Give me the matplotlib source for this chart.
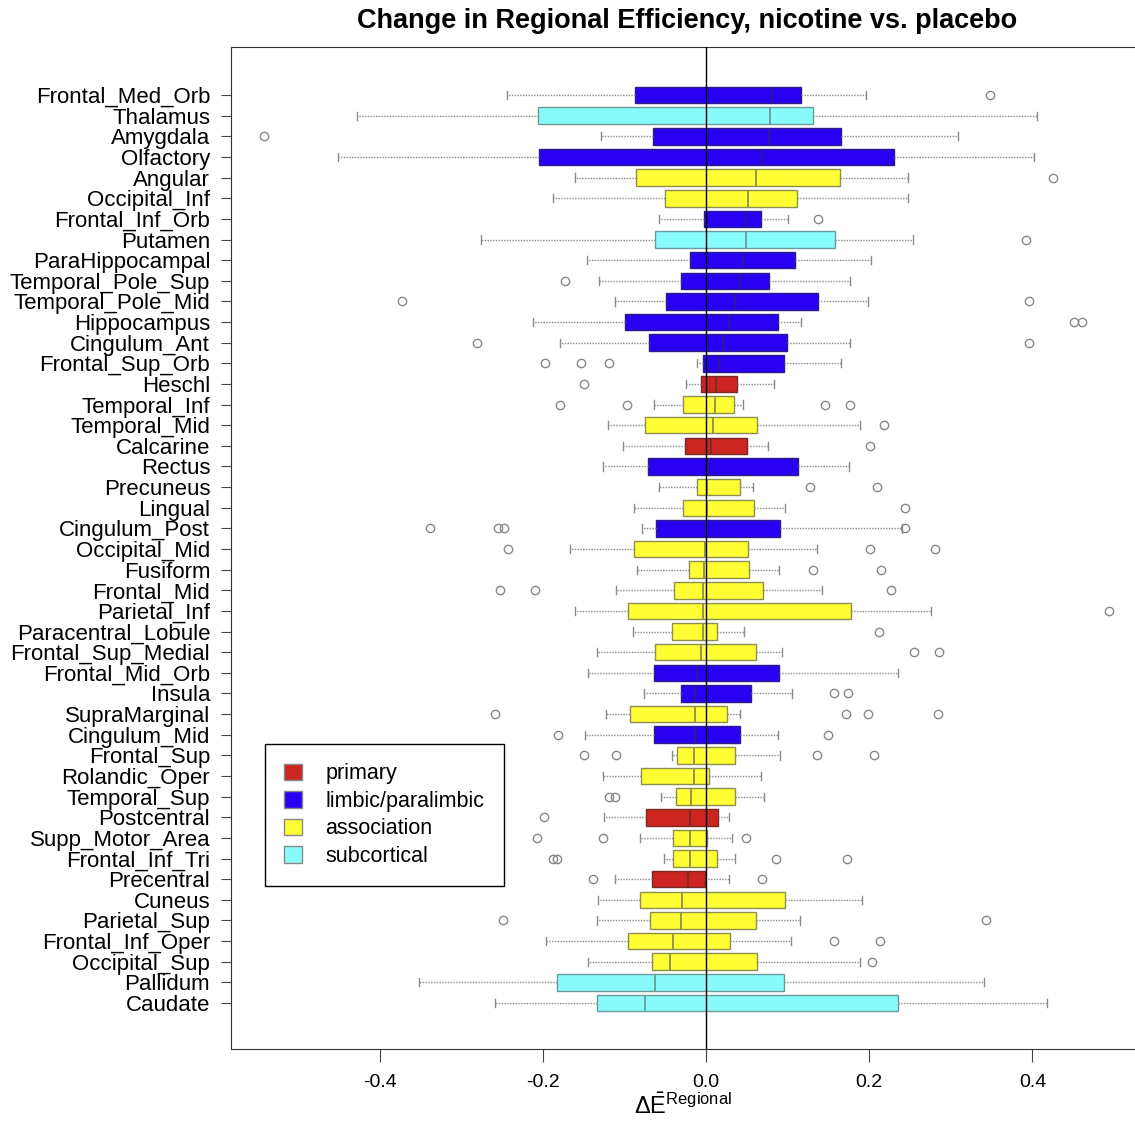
"""
Change in regional efficiency (nicotine vs. placebo) -- horizontal boxplots
per AAL region, coloured by region class.
"""

import matplotlib
matplotlib.use("Agg")
import matplotlib.pyplot as plt
from matplotlib.patches import Patch

plt.rcParams["font.family"] = ["Liberation Sans", "DejaVu Sans"]
plt.rcParams["mathtext.fontset"] = "custom"
plt.rcParams["mathtext.rm"] = "Liberation Sans"
plt.rcParams["mathtext.it"] = "Liberation Sans"

# ---- Data (top to bottom as drawn) ----
regions = [
    "Frontal_Med_Orb", "Thalamus", "Amygdala", "Olfactory", "Angular",
    "Occipital_Inf", "Frontal_Inf_Orb", "Putamen", "ParaHippocampal",
    "Temporal_Pole_Sup", "Temporal_Pole_Mid", "Hippocampus", "Cingulum_Ant",
    "Frontal_Sup_Orb", "Heschl", "Temporal_Inf", "Temporal_Mid", "Calcarine",
    "Rectus", "Precuneus", "Lingual", "Cingulum_Post", "Occipital_Mid",
    "Fusiform", "Frontal_Mid", "Parietal_Inf", "Paracentral_Lobule",
    "Frontal_Sup_Medial", "Frontal_Mid_Orb", "Insula", "SupraMarginal",
    "Cingulum_Mid", "Frontal_Sup", "Rolandic_Oper", "Temporal_Sup",
    "Postcentral", "Supp_Motor_Area", "Frontal_Inf_Tri", "Precentral",
    "Cuneus", "Parietal_Sup", "Frontal_Inf_Oper", "Occipital_Sup",
    "Pallidum", "Caudate",
]
region_class = [
    "L", "S", "L", "L", "A", "A", "L", "S", "L", "L", "L", "L", "L", "L", "P",
    "A", "A", "P", "L", "A", "A", "L", "A", "A", "A", "A", "A", "A", "L", "L",
    "A", "L", "A", "A", "A", "P", "A", "A", "P", "A", "A", "A", "A", "S", "S",
]
whislo = [
    -0.244, -0.427, -0.129, -0.451, -0.160, -0.187, -0.057, -0.276, -0.146,
    -0.131, -0.112, -0.212, -0.179, -0.011, -0.025, -0.064, -0.120, -0.102,
    -0.126, -0.058, -0.088, -0.079, -0.167, -0.084, -0.110, -0.161, -0.090,
    -0.133, -0.144, -0.076, -0.122, -0.148, -0.042, -0.126, -0.055, -0.125,
    -0.081, -0.052, -0.112, -0.132, -0.134, -0.196, -0.145, -0.352, -0.259,
]
q1 = [
    -0.087, -0.206, -0.065, -0.204, -0.086, -0.050, -0.003, -0.063, -0.020,
    -0.030, -0.049, -0.099, -0.070, -0.004, -0.006, -0.028, -0.075, -0.026,
    -0.071, -0.011, -0.028, -0.061, -0.088, -0.021, -0.039, -0.095, -0.042,
    -0.063, -0.064, -0.030, -0.093, -0.064, -0.036, -0.080, -0.037, -0.073,
    -0.040, -0.040, -0.066, -0.081, -0.069, -0.095, -0.066, -0.182, -0.134,
]
med = [
    0.081, 0.079, 0.077, 0.069, 0.061, 0.051, 0.049, 0.049, 0.045,
    0.042, 0.035, 0.028, 0.021, 0.016, 0.012, 0.011, 0.008, 0.006,
    0.002, 0.001, 0.001, 0.000, -0.001, -0.002, -0.004, -0.004, -0.004,
    -0.006, -0.011, -0.013, -0.013, -0.014, -0.015, -0.015, -0.018, -0.020,
    -0.020, -0.020, -0.022, -0.029, -0.030, -0.040, -0.044, -0.062, -0.075,
]
q3 = [
    0.117, 0.131, 0.166, 0.230, 0.164, 0.111, 0.067, 0.158, 0.109,
    0.077, 0.137, 0.088, 0.099, 0.096, 0.038, 0.034, 0.062, 0.050,
    0.113, 0.042, 0.059, 0.091, 0.051, 0.053, 0.070, 0.178, 0.013,
    0.061, 0.090, 0.055, 0.026, 0.042, 0.036, 0.004, 0.035, 0.015,
    0.001, 0.013, -0.001, 0.097, 0.061, 0.029, 0.062, 0.096, 0.235,
]
whishi = [
    0.196, 0.406, 0.309, 0.402, 0.247, 0.247, 0.100, 0.254, 0.202,
    0.176, 0.199, 0.116, 0.176, 0.166, 0.083, 0.045, 0.189, 0.076,
    0.175, 0.058, 0.097, 0.240, 0.136, 0.090, 0.142, 0.276, 0.046,
    0.093, 0.235, 0.105, 0.042, 0.088, 0.091, 0.067, 0.071, 0.028,
    0.032, 0.035, 0.028, 0.191, 0.115, 0.104, 0.189, 0.341, 0.418,
]
outliers = [
    [0.348], [], [-0.541], [], [0.425],
    [], [0.137], [0.392], [],
    [-0.173], [-0.372, 0.396], [0.451, 0.461], [-0.281, 0.396],
    [-0.197, -0.153, -0.119], [-0.150], [-0.179, -0.097, 0.146, 0.177],
    [0.218], [0.201],
    [], [0.127, 0.210], [0.244], [-0.338, -0.255, -0.248, 0.244],
    [-0.242, 0.201, 0.281],
    [0.131, 0.215], [-0.252, -0.209, 0.227], [0.494], [0.212],
    [0.255, 0.286], [], [0.157, 0.174], [-0.259, 0.171, 0.199, 0.284],
    [-0.181, 0.150], [-0.149, -0.110, 0.136, 0.206], [], [-0.119, -0.112],
    [-0.198], [-0.207, -0.126, 0.049], [-0.188, -0.182, 0.086, 0.173],
    [-0.138, 0.069],
    [], [-0.249, 0.343], [0.157, 0.213], [0.204],
    [], [],
]

class_labels = {"P": "primary", "L": "limbic/paralimbic",
                "A": "association", "S": "subcortical"}
class_face = {"P": "#CC2520", "L": "#2A00F2", "A": "#FFFF33", "S": "#88FCFC"}
class_edge = {"P": "#7A2A24", "L": "#2A1C8A", "A": "#8E8E50", "S": "#6A9A9A"}


def main() -> None:
    n = len(regions)
    positions = list(range(n, 0, -1))  # first region at the top

    stats = []
    for i in range(n):
        stats.append({
            "label": regions[i], "whislo": whislo[i], "q1": q1[i],
            "med": med[i], "q3": q3[i], "whishi": whishi[i],
            "fliers": outliers[i],
        })

    fig = plt.figure(figsize=(11.35, 11.22), dpi=100)
    ax = fig.add_axes([231 / 1135, (1122 - 1049) / 1122, 904 / 1135, 1002 / 1122])

    bp = ax.bxp(
        stats, positions=positions, vert=False, widths=0.8, patch_artist=True,
        capwidths=0.4,
        whiskerprops=dict(color="#8a8a8a", linestyle=(0, (1, 1)), linewidth=1.0),
        capprops=dict(color="#8a8a8a", linewidth=1.0),
        flierprops=dict(marker="o", markerfacecolor="none", markeredgecolor="#888888",
                        markersize=6, markeredgewidth=1.0),
        medianprops=dict(linewidth=1.3),
    )
    for i, box in enumerate(bp["boxes"]):
        c = region_class[i]
        box.set_facecolor(class_face[c])
        box.set_edgecolor(class_edge[c])
        box.set_linewidth(1.0)
        bp["medians"][i].set_color(class_edge[c])

    ax.axvline(0.0, color="black", linewidth=1.0, zorder=5)

    ax.set_xlim(-0.582, 0.5257)
    ax.set_ylim(-1.23, 47.33)
    ax.set_xticks([-0.4, -0.2, 0.0, 0.2, 0.4])
    ax.set_xticklabels(["-0.4", "-0.2", "0.0", "0.2", "0.4"], fontsize=14)
    ax.set_yticks(positions)
    ax.set_yticklabels(regions, fontsize=16)
    ax.tick_params(axis="y", length=7, pad=8, color="#444444")
    ax.tick_params(axis="x", length=9, pad=9, color="#444444")
    ax.spines["right"].set_visible(False)
    for s in ["left", "top", "bottom"]:
        ax.spines[s].set_color("#333333")

    ax.set_xlabel(r"$\mathrm{\Delta\bar{E}}^{\mathrm{Regional}}$", fontsize=17, labelpad=2)

    fig.text(687 / 1135, 1 - 21 / 1122,
             "Change in Regional Efficiency, nicotine vs. placebo",
             ha="center", va="center", fontsize=19.5, fontweight="bold")

    handles = [Patch(facecolor=class_face[k], edgecolor="#888888", label=class_labels[k])
               for k in ["P", "L", "A", "S"]]
    leg = ax.legend(handles=handles, loc="upper left",
                    bbox_to_anchor=((265 - 231) / 904, (1049 - 744) / 1002),
                    borderaxespad=0, fontsize=15.5, fancybox=False, framealpha=1,
                    handlelength=0.8, handleheight=0.8, handletextpad=1.1,
                    labelspacing=0.3, borderpad=0.9)
    leg.get_frame().set_edgecolor("black")
    leg.get_frame().set_linewidth(1.0)

    fig.savefig("out.png", dpi=100)
    plt.close(fig)


if __name__ == "__main__":
    main()
